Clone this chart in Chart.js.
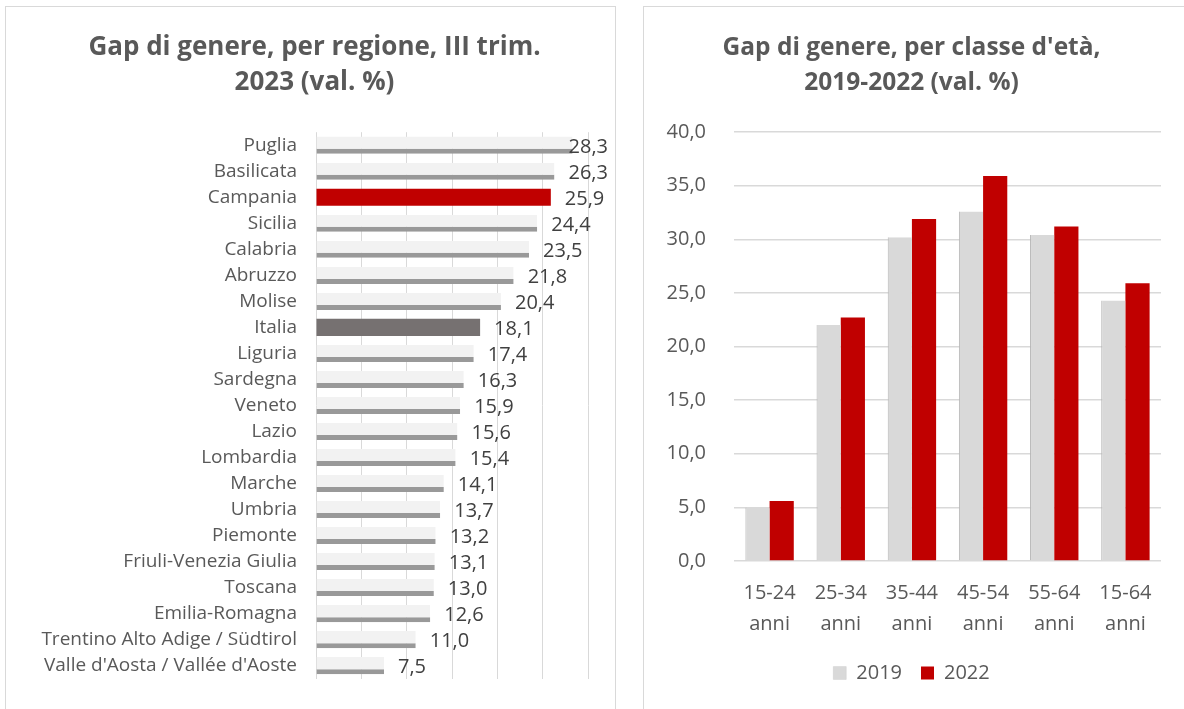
<!DOCTYPE html>
<html>
<head>
<meta charset="utf-8">
<script src="https://cdn.jsdelivr.net/npm/chart.js@4.4.1/dist/chart.umd.min.js"></script>
<style>
    body { margin: 0; background: #fff; width: 1184px; height: 709px; overflow: hidden; position: relative; }
    .panel { position: absolute; top: 6px; border: 1px solid #d9d9d9; background: #fff; }
    #leftPanel { left: 5px; width: 609px; height: 720px; }
    #rightPanel { left: 643px; width: 560px; height: 720px; }
    canvas { position: absolute; left: 0; top: 0; }
</style>
</head>
<body>
<div class="panel" id="leftPanel"><canvas id="regionChart" width="609" height="702"></canvas></div>
<div class="panel" id="rightPanel"><canvas id="ageChart" width="540" height="702"></canvas></div>

<script>
// Gap di genere per regione, III trim. 2023
const regions = [
    'Puglia', 'Basilicata', 'Campania', 'Sicilia', 'Calabria', 'Abruzzo', 'Molise', 'Italia',
    'Liguria', 'Sardegna', 'Veneto', 'Lazio', 'Lombardia', 'Marche', 'Umbria', 'Piemonte',
    'Friuli-Venezia Giulia', 'Toscana', 'Emilia-Romagna', 'Trentino Alto Adige / Südtirol',
    "Valle d'Aosta / Vallée d'Aoste"
];
const regionGap = [28.3, 26.3, 25.9, 24.4, 23.5, 21.8, 20.4, 18.1, 17.4, 16.3, 15.9, 15.6, 15.4,
    14.1, 13.7, 13.2, 13.1, 13.0, 12.6, 11.0, 7.5];

// Gap di genere per classe d'età, 2019-2022
const ageClasses = [['15-24', 'anni'], ['25-34', 'anni'], ['35-44', 'anni'], ['45-54', 'anni'], ['55-64', 'anni'], ['15-64', 'anni']];
const gap2019 = [5.0, 22.0, 30.2, 32.6, 30.4, 24.3];
const gap2022 = [5.6, 22.7, 31.9, 35.9, 31.2, 25.9];
const yTicks = [0, 5, 10, 15, 20, 25, 30, 35, 40];

const FONT = "'Open Sans', sans-serif";
const TEXT = '#595959';
const GRID = '#d9d9d9';
const RED = '#c00000';

const fmt = v => v.toFixed(1).replace('.', ',');

// 🟢 value labels at the end of the horizontal bars
const barLabels = {
    id: 'barLabels',
    afterDatasetsDraw(chart) {
        const ctx = chart.ctx;
        const meta = chart.getDatasetMeta(0);
        ctx.save();
        ctx.font = `20px ${FONT}`;
        ctx.fillStyle = '#404040';
        ctx.textBaseline = 'middle';
        meta.data.forEach((bar, i) => {
            const txt = fmt(regionGap[i]);
            const w = ctx.measureText(txt).width;
            let x = bar.x + 14;
            if (x + w > 602) x = 602 - w;
            ctx.fillText(txt, x, bar.y + 2);
        });
        ctx.restore();
    }
};

new Chart(document.getElementById('regionChart').getContext('2d'), {
    type: 'bar',
    data: {
        labels: regions,
        datasets: [{
            data: regionGap,
            backgroundColor: c => c.dataIndex === 2 ? RED : (c.dataIndex === 7 ? '#767171' : '#f2f2f2'),
            borderColor: '#999999',
            borderWidth: c => (c.dataIndex === 2 || c.dataIndex === 7) ? 0 : { top: 0, right: 0, bottom: 5, left: 0 },
            borderSkipped: false,
            barPercentage: 0.66,
            categoryPercentage: 1
        }]
    },
    plugins: [barLabels],
    options: {
        indexAxis: 'y',
        responsive: false,
        animation: false,
        // left padding nudges the title right; the axis width keeps the plot where it was
        layout: { padding: { left: 35, right: 27, top: 0, bottom: 26 } },
        plugins: {
            legend: { display: false },
            tooltip: { enabled: false },
            title: {
                display: true,
                text: ['Gap di genere, per regione, III trim.', '2023 (val. %)'],
                color: TEXT,
                font: { family: FONT, size: 26, weight: 'bold', lineHeight: 1.35 },
                padding: { top: 23, bottom: 32 }
            }
        },
        scales: {
            x: {
                min: 0,
                max: 30,
                ticks: { stepSize: 5, display: false },
                grid: { color: GRID, drawTicks: false },
                border: { display: false }
            },
            y: {
                grid: { display: false, drawTicks: false },
                border: { display: false },
                ticks: { color: TEXT, padding: 19, font: { family: FONT, size: 19 } },
                afterFit: s => { s.width = 275; }
            }
        }
    }
});

new Chart(document.getElementById('ageChart').getContext('2d'), {
    type: 'bar',
    data: {
        labels: ageClasses,
        datasets: [
            {
                label: '2019',
                data: gap2019,
                backgroundColor: '#d9d9d9',
                borderColor: '#b5b5b5',
                borderWidth: { top: 0, right: 0, bottom: 0, left: 1 },
                borderSkipped: false,
                barPercentage: 1,
                categoryPercentage: 0.68
            },
            {
                label: '2022',
                data: gap2022,
                backgroundColor: RED,
                borderWidth: 0,
                barPercentage: 1,
                categoryPercentage: 0.68
            }
        ]
    },
    options: {
        responsive: false,
        animation: false,
        layout: { padding: { left: 18, right: 23, top: 0, bottom: 16 } },
        plugins: {
            tooltip: { enabled: false },
            title: {
                display: true,
                text: ["Gap di genere, per classe d'età,", '2019-2022 (val. %)'],
                color: TEXT,
                font: { family: FONT, size: 24.5, weight: 'bold', lineHeight: 1.43 },
                padding: { top: 23, bottom: 32 }
            },
            legend: {
                position: 'bottom',
                labels: {
                    color: TEXT,
                    boxWidth: 13,
                    boxHeight: 13,
                    padding: 19,
                    font: { family: FONT, size: 20 }
                }
            }
        },
        scales: {
            y: {
                min: 0,
                max: 40,
                afterBuildTicks: s => { s.ticks = yTicks.map(v => ({ value: v })); },
                ticks: { color: TEXT, padding: 28, font: { family: FONT, size: 20 }, callback: v => fmt(v) },
                grid: { color: GRID, lineWidth: 1.5, drawTicks: false },
                border: { display: false },
                afterFit: s => { s.width = 72; }
            },
            x: {
                grid: { display: false, drawTicks: false },
                border: { display: false },
                ticks: { color: TEXT, padding: 17, font: { family: FONT, size: 20, lineHeight: 1.55 } },
                afterFit: s => { s.height = 83; }
            }
        }
    }
});
</script>
</body>
</html>
